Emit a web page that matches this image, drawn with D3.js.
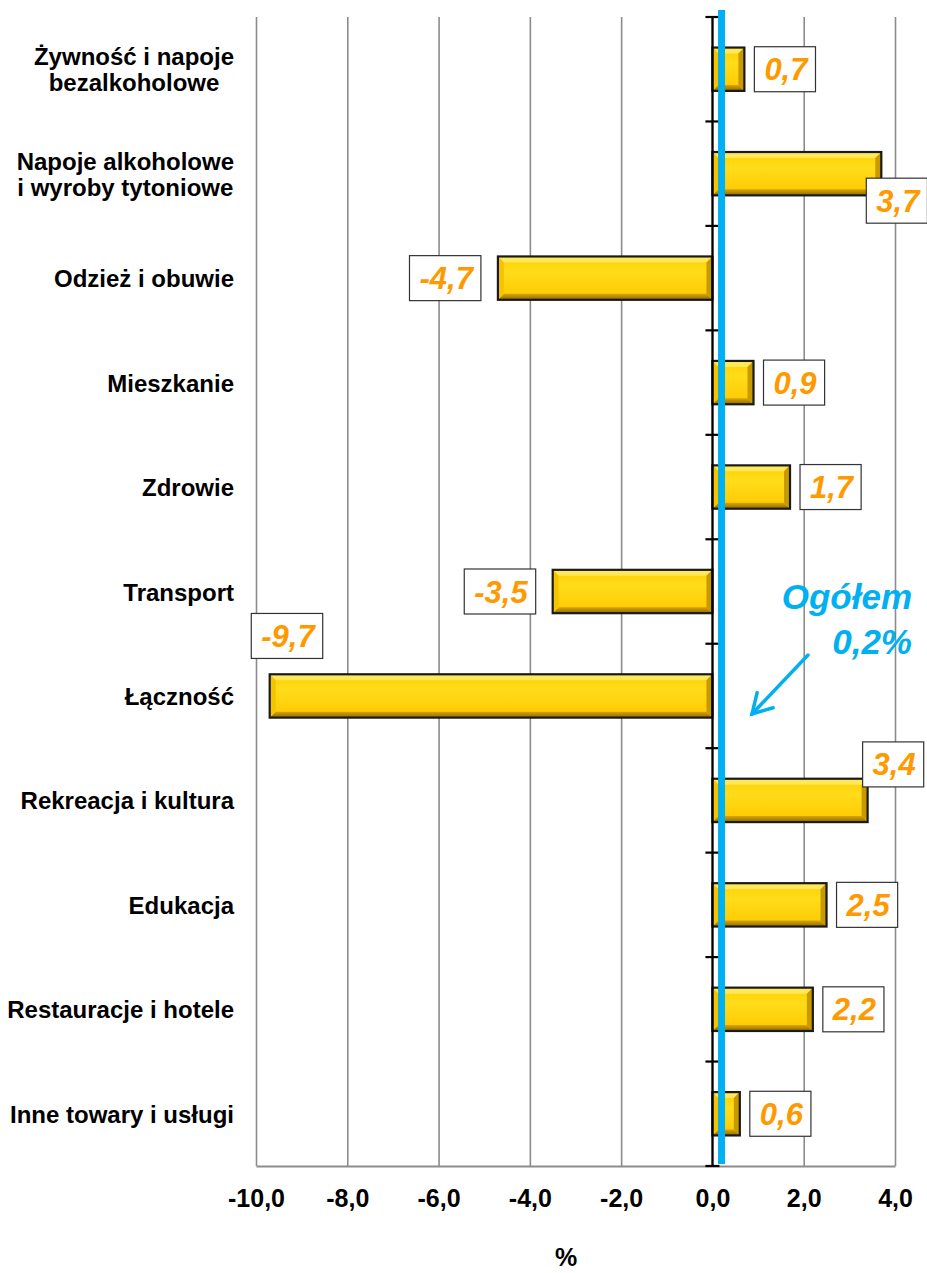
<!DOCTYPE html>
<html><head><meta charset="utf-8">
<script src="https://cdn.jsdelivr.net/npm/d3@7"></script>
<style>
body{margin:0;background:#fff;}
svg{display:block;font-family:Arial,"Liberation Sans",sans-serif;}
</style>
</head><body>
<svg id="c" width="927" height="1273"></svg>
<script>
// ---- data ----
const categories = [
  "Żywność i napoje\nbezalkoholowe",
  "Napoje alkoholowe\ni wyroby tytoniowe",
  "Odzież i obuwie",
  "Mieszkanie",
  "Zdrowie",
  "Transport",
  "Łączność",
  "Rekreacja i kultura",
  "Edukacja",
  "Restauracje i hotele",
  "Inne towary i usługi"
];
const values = [0.7, 3.7, -4.7, 0.9, 1.7, -3.5, -9.7, 3.4, 2.5, 2.2, 0.6];
const xTickValues = [-10, -8, -6, -4, -2, 0, 2, 4];
const totalValue = 0.2;
const totalLabelLines = ["Ogółem", "0,2%"];
const axisTitle = "%";

// ---- layout (not data) ----
const labelNudge = { // manual label placements as in the source chart
  "Napoje alkoholowe\ni wyroby tytoniowe": {dx: -25, dy: 27},
  "Rekreacja i kultura": {dx: -15, dy: -36},
  "Łączność": {dx: 70, dy: -60}
};

const svg = d3.select("#c");
const loc = d3.formatLocale({decimal: ",", thousands: " ", grouping: [3], currency: ["", ""], minus: "-"});
const fmt = loc.format(".1f");

const x = d3.scaleLinear().domain([-10, 4]).range([256, 895]);
const y = d3.scaleBand().domain(categories).range([17, 1166]).paddingInner(0.585).paddingOuter(0.2925);
const yTop = y.range()[0], yBottom = y.range()[1];

// gridlines + tick labels via axis
const gx = svg.append("g").attr("transform", `translate(0,${yBottom})`)
  .call(d3.axisBottom(x).tickValues(xTickValues).tickFormat(fmt)
        .tickSize(-(yBottom - yTop)).tickSizeOuter(0).tickPadding(23));
gx.select(".domain").attr("stroke", "#8c8c8c").attr("stroke-width", 2);
gx.selectAll(".tick line").attr("stroke", "#8c8c8c").attr("stroke-width", 1.6);
gx.selectAll(".tick text").attr("fill", "#000").attr("font-size", 25).attr("font-weight", "bold")
  .attr("font-family", "Arial, 'Liberation Sans', sans-serif");

// axis title
svg.append("text").attr("x", 566).attr("y", 1266).attr("text-anchor", "middle")
  .attr("font-size", 25).attr("font-weight", "bold").text(axisTitle);

// gradients
const defs = svg.append("defs");
const gMain = defs.append("linearGradient").attr("id", "gmain").attr("x1", 0).attr("y1", 0).attr("x2", 0).attr("y2", 1);
gMain.append("stop").attr("offset", "0%").attr("stop-color", "#ffd000");
gMain.append("stop").attr("offset", "35%").attr("stop-color", "#ffdc1a");
gMain.append("stop").attr("offset", "100%").attr("stop-color", "#ffc800");
const gBot = defs.append("linearGradient").attr("id", "gbot").attr("x1", 0).attr("y1", 0).attr("x2", 0).attr("y2", 1);
gBot.append("stop").attr("offset", "0%").attr("stop-color", "#d9a600");
gBot.append("stop").attr("offset", "100%").attr("stop-color", "#8f6a00");

// bars with bevel
const data = categories.map((c, i) => ({c, v: values[i]}));
const bars = svg.append("g").selectAll("g").data(data).join("g");
const bev = 6;
bars.each(function(d) {
  const g = d3.select(this);
  const x0 = Math.min(x(0), x(d.v)), x1 = Math.max(x(0), x(d.v));
  const y0 = y(d.c), y1 = y(d.c) + y.bandwidth();
  const b = Math.min(bev, (x1 - x0) / 2);
  g.append("rect").attr("x", x0).attr("y", y0).attr("width", x1 - x0).attr("height", y1 - y0).attr("fill", "url(#gmain)");
  const poly = (pts, fill) => g.append("polygon").attr("points", pts.map(p => p.join(",")).join(" ")).attr("fill", fill);
  poly([[x0, y0], [x1, y0], [x1 - b, y0 + b], [x0 + b, y0 + b]], "#ffe85a");
  poly([[x0, y1], [x1, y1], [x1 - b, y1 - b], [x0 + b, y1 - b]], "url(#gbot)");
  poly([[x0, y0], [x0 + b, y0 + b], [x0 + b, y1 - b], [x0, y1]], "#f5c400");
  poly([[x1, y0], [x1 - b, y0 + b], [x1 - b, y1 - b], [x1, y1]], "#c99a00");
  g.append("rect").attr("x", x0).attr("y", y0).attr("width", x1 - x0).attr("height", y1 - y0)
    .attr("fill", "none").attr("stroke", "#1a1a1a").attr("stroke-width", 2.2);
});

// zero axis with boundary ticks
const x0px = x(0);
svg.append("line").attr("x1", x0px).attr("x2", x0px).attr("y1", yTop).attr("y2", yBottom)
  .attr("stroke", "#000").attr("stroke-width", 2.2);
const gapHalf = (y.step() - y.bandwidth()) / 2;
const boundaries = categories.map(c => y(c) - gapHalf).concat([y(categories[categories.length - 1]) + y.bandwidth() + gapHalf]);
svg.append("g").selectAll("line").data(boundaries).join("line")
  .attr("x1", x0px - 7).attr("x2", x0px + 7).attr("y1", d => d).attr("y2", d => d)
  .attr("stroke", "#000").attr("stroke-width", 2.2);

// category labels
const catG = svg.append("g");
data.forEach(d => {
  const lines = d.c.split("\n");
  const cy = y(d.c) + y.bandwidth() / 2;
  const t = catG.append("g");
  const texts = lines.map((ln, k) => t.append("text").attr("font-size", 24).attr("font-weight", "bold")
    .attr("fill", "#000").attr("text-anchor", "middle")
    .attr("y", cy + 9 + (k - (lines.length - 1) / 2) * 26).text(ln));
  const maxW = d3.max(texts, tx => tx.node().getComputedTextLength());
  texts.forEach(tx => tx.attr("x", 234 - maxW / 2));
});

// total line
svg.append("line").attr("x1", x(totalValue)).attr("x2", x(totalValue)).attr("y1", 10).attr("y2", yBottom - 2)
  .attr("stroke", "#00b0f0").attr("stroke-width", 7);

// data labels
const lblG = svg.append("g");
data.forEach(d => {
  const g = lblG.append("g");
  const t = g.append("text").attr("font-size", 31).attr("font-weight", "bold").attr("font-style", "italic")
    .attr("fill", "#ff9900").attr("text-anchor", "middle").text(fmt(d.v));
  const tw = t.node().getComputedTextLength();
  const w = tw + 18, h = 45;
  const n = labelNudge[d.c] || {dx: 0, dy: 0};
  let bx = d.v >= 0 ? x(d.v) + 10 : x(d.v) - 17 - w;
  bx += n.dx;
  const cy = y(d.c) + y.bandwidth() / 2 + n.dy;
  g.insert("rect", "text").attr("x", bx).attr("y", cy - h / 2).attr("width", w).attr("height", h)
    .attr("fill", "#fff").attr("stroke", "#333").attr("stroke-width", 1.2);
  t.attr("x", bx + w / 2 + 1).attr("y", cy + 11);
});

// total annotation
const annG = svg.append("g").attr("fill", "#00b0f0").attr("font-size", 35).attr("font-weight", "bold")
  .attr("font-style", "italic").attr("text-anchor", "end");
annG.selectAll("text").data(totalLabelLines).join("text")
  .attr("x", 912).attr("y", (d, i) => 609 + i * 45).text(d => d);

// arrow
const ax1 = 808, ay1 = 655, ax2 = 752, ay2 = 714;
const ang = Math.atan2(ay2 - ay1, ax2 - ax1);
const arm = 22, spread = Math.PI / 6;
const arrowG = svg.append("g").attr("stroke", "#00b0f0").attr("stroke-width", 3.5).attr("fill", "none")
  .attr("stroke-linecap", "round").attr("stroke-linejoin", "miter");
arrowG.append("line").attr("x1", ax1).attr("y1", ay1).attr("x2", ax2).attr("y2", ay2);
arrowG.append("path").attr("d", d3.line()([
  [ax2 - arm * Math.cos(ang - spread), ay2 - arm * Math.sin(ang - spread)],
  [ax2, ay2],
  [ax2 - arm * Math.cos(ang + spread), ay2 - arm * Math.sin(ang + spread)]
]));
</script>
</body></html>
